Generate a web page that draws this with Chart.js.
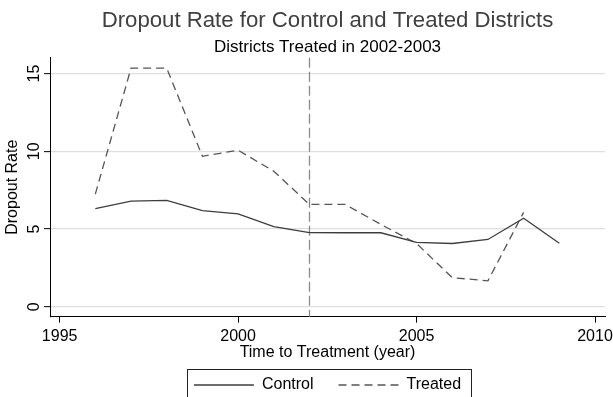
<!DOCTYPE html>
<html>
<head>
<meta charset="utf-8">
<title>Dropout Rate for Control and Treated Districts</title>
<script src="https://cdn.jsdelivr.net/npm/chart.js@4/dist/chart.umd.min.js"></script>
<style>
  html, body { margin: 0; padding: 0; background: #ffffff; }
  #chart { display: block; }
</style>
</head>
<body>
<canvas id="chart" width="613" height="397"></canvas>
<script>
// School years covered by each series
const controlYears = [1996, 1997, 1998, 1999, 2000, 2001, 2002, 2003, 2004, 2005, 2006, 2007, 2008, 2009];
const treatedYears = [1996, 1997, 1998, 1999, 2000, 2001, 2002, 2003, 2004, 2005, 2006, 2007, 2008];

// Mean dropout rate (%) per year
const controlRate = [6.32, 6.79, 6.84, 6.19, 5.98, 5.15, 4.77, 4.76, 4.76, 4.14, 4.07, 4.33, 5.70, 4.09];
const treatedRate = [7.25, 15.35, 15.35, 9.68, 10.07, 8.72, 6.58, 6.58, 5.30, 4.07, 1.87, 1.67, 6.07];

// Axis tick labels
const xTickValues = [1995, 2000, 2005, 2010];
const yTickValues = [0, 5, 10, 15];

// Year treatment started (marked with a vertical reference line)
const treatmentYear = 2002;

const FONT = "'Liberation Sans', Arial, Helvetica, sans-serif";
Chart.defaults.font.family = FONT;
Chart.defaults.color = '#000000';

const toPoints = (xs, ys) => xs.map((x, i) => ({ x: x, y: ys[i] }));

// Dashed vertical line at the treatment year, drawn through the x scale
const treatmentLine = {
  id: 'treatmentLine',
  beforeDatasetsDraw(chart) {
    const { ctx, chartArea, scales } = chart;
    const px = Math.round(scales.x.getPixelForValue(treatmentYear)) + 0.5;
    ctx.save();
    ctx.strokeStyle = '#8a8a8a';
    ctx.lineWidth = 1.3;
    ctx.setLineDash([10, 4]);
    ctx.beginPath();
    ctx.moveTo(px, chartArea.top);
    ctx.lineTo(px, chartArea.bottom);
    ctx.stroke();
    ctx.restore();
  }
};

// Frame around the legend entries
const legendFrame = {
  id: 'legendFrame',
  afterDraw(chart) {
    const boxes = chart.legend && chart.legend.legendHitBoxes;
    if (!boxes || !boxes.length) return;
    const first = boxes[0];
    const last = boxes[boxes.length - 1];
    const left = Math.round(first.left - 7) + 0.5;
    const right = Math.round(last.left + last.width + 10) + 0.5;
    const top = Math.round(first.top - 8) + 0.5;
    const bottom = top + 40;
    const ctx = chart.ctx;
    ctx.save();
    ctx.strokeStyle = '#222222';
    ctx.lineWidth = 1;
    ctx.setLineDash([]);
    ctx.strokeRect(left, top, right - left, bottom - top);
    ctx.restore();
  }
};

// Legend samples take the dash pattern and width of their dataset line
const defaultLabels = Chart.defaults.plugins.legend.labels.generateLabels;
function lineLegendLabels(chart) {
  return defaultLabels(chart).map(item => {
    const ds = chart.data.datasets[item.datasetIndex];
    item.lineDash = ds.borderDash || [];
    item.lineWidth = ds.borderWidth;
    item.strokeStyle = ds.borderColor;
    return item;
  });
}

new Chart(document.getElementById('chart'), {
  type: 'line',
  data: {
    datasets: [
      {
        label: 'Control',
        data: toPoints(controlYears, controlRate),
        borderColor: '#3d3d3d',
        backgroundColor: '#3d3d3d',
        borderWidth: 1.3,
        pointRadius: 0,
        tension: 0,
        fill: false
      },
      {
        label: 'Treated',
        data: toPoints(treatedYears, treatedRate),
        borderColor: '#555555',
        backgroundColor: '#555555',
        borderWidth: 1.3,
        borderDash: [8, 5],
        pointRadius: 0,
        tension: 0,
        fill: false
      }
    ]
  },
  options: {
    responsive: false,
    animation: false,
    devicePixelRatio: 1,
    layout: { padding: { left: 0, right: 8, top: 0, bottom: -6 } },
    scales: {
      x: {
        type: 'linear',
        position: 'bottom',
        min: 1994.73,
        max: 2010.28,
        afterBuildTicks(scale) { scale.ticks = xTickValues.map(v => ({ value: v })); },
        afterFit(scale) {
          scale.height = 35.3;
          scale.paddingLeft = 0;
          scale.paddingRight = 0;
        },
        grid: { drawOnChartArea: false, drawTicks: true, tickLength: 6, tickColor: '#000000', tickWidth: 1 },
        border: { display: true, color: '#000000', width: 1 },
        ticks: {
          font: { size: 16 },
          color: '#000000',
          maxRotation: 0,
          minRotation: 0,
          padding: 4.5,
          callback: v => String(v)
        },
        title: {
          display: true,
          text: 'Time to Treatment (year)',
          font: { size: 16 },
          color: '#000000',
          padding: { top: 0, bottom: -10.4 }
        }
      },
      y: {
        type: 'linear',
        position: 'left',
        min: -0.64,
        max: 16.02,
        afterBuildTicks(scale) { scale.ticks = yTickValues.map(v => ({ value: v })); },
        afterFit(scale) {
          scale.width = 50;
          scale.paddingTop = 0;
          scale.paddingBottom = 0;
        },
        grid: { color: '#dedede', lineWidth: 1.3, drawTicks: true, tickLength: 6, tickColor: '#000000', tickWidth: 1 },
        border: { display: true, color: '#000000', width: 1 },
        ticks: {
          font: { size: 16 },
          color: '#000000',
          minRotation: 90,
          maxRotation: 90,
          crossAlign: 'center',
          padding: 1,
          callback: v => String(v)
        },
        title: {
          display: true,
          text: 'Dropout Rate',
          font: { size: 16 },
          color: '#000000',
          padding: { top: 3.4, bottom: 0 }
        }
      }
    },
    plugins: {
      title: {
        display: true,
        text: 'Dropout Rate for Control and Treated Districts',
        fullSize: false,
        font: { size: 22.2, weight: 'normal' },
        color: '#404040',
        padding: { top: 8, bottom: 0 }
      },
      subtitle: {
        display: true,
        text: 'Districts Treated in 2002-2003',
        fullSize: false,
        font: { size: 17, weight: 'normal' },
        color: '#000000',
        padding: { top: 2.4, bottom: 0.3 }
      },
      legend: {
        display: true,
        position: 'bottom',
        fullSize: false,
        labels: {
          usePointStyle: true,
          pointStyle: 'line',
          pointStyleWidth: 60,
          padding: 25,
          color: '#000000',
          font: { size: 16 },
          generateLabels: lineLegendLabels
        }
      },
      tooltip: { enabled: false }
    }
  },
  plugins: [treatmentLine, legendFrame]
});
</script>
</body>
</html>
